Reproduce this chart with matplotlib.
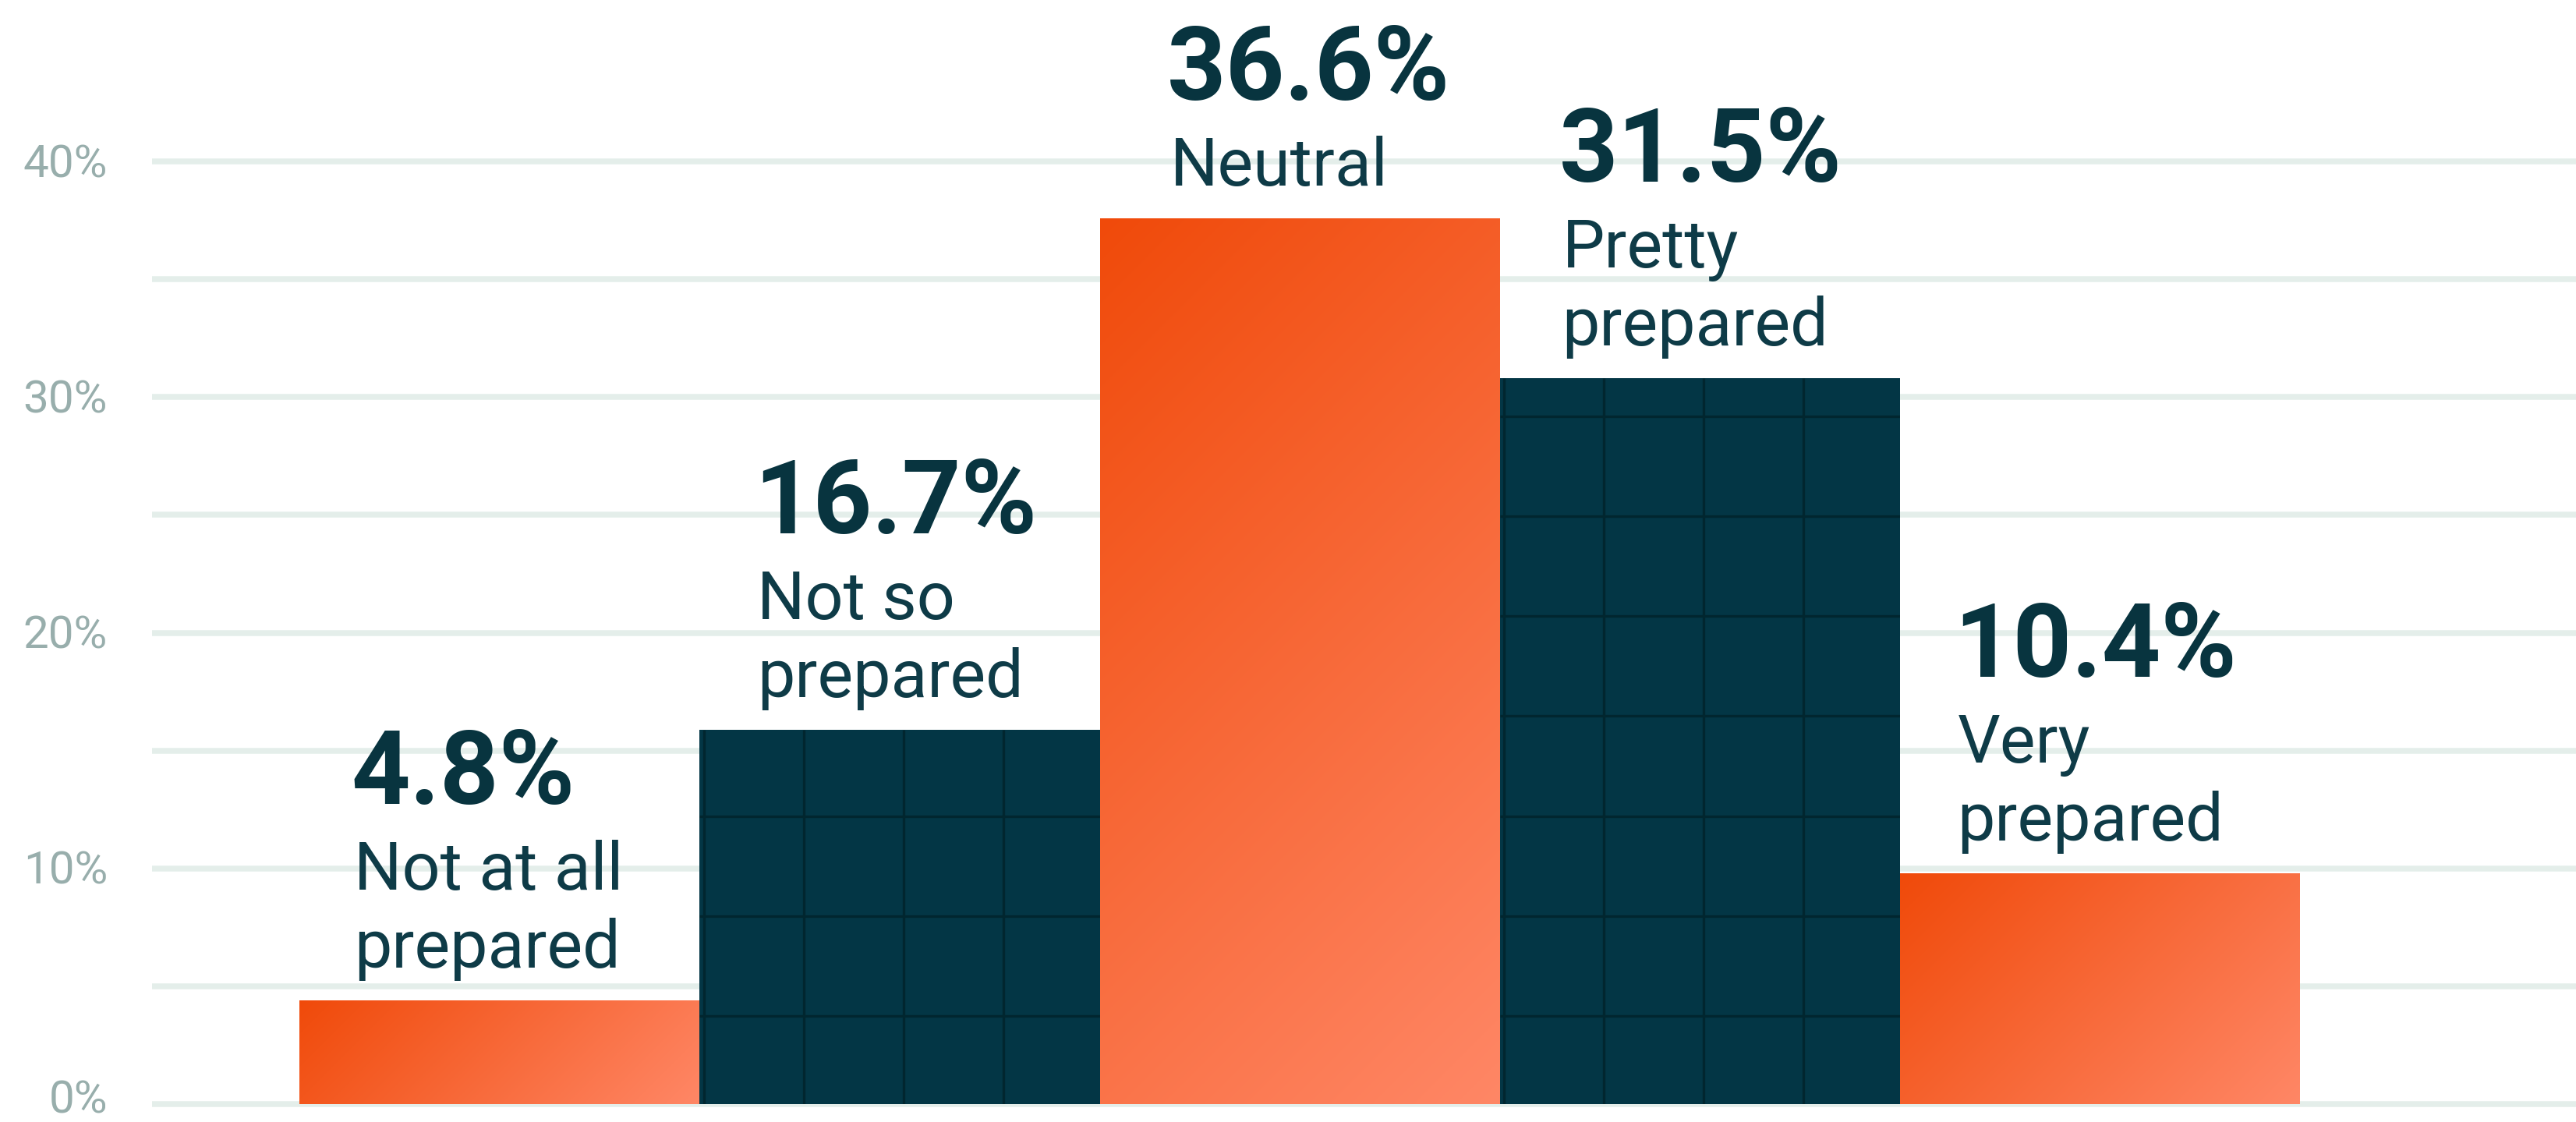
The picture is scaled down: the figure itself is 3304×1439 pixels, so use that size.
import numpy as np
import matplotlib
matplotlib.use('Agg')
import matplotlib.pyplot as plt
from matplotlib.ticker import FixedLocator
from matplotlib.transforms import blended_transform_factory
from matplotlib.colors import to_rgb

categories = ['Not at all\nprepared', 'Not so\nprepared', 'Neutral', 'Pretty\nprepared', 'Very\nprepared']
reported_pct = [4.8, 16.7, 36.6, 31.5, 10.4]
bar_heights = [4.4, 15.9, 37.6, 30.8, 9.8]   # heights as drawn in the picture
bar_style = ['gradient', 'dark', 'gradient', 'dark', 'gradient']
y_ticks = [0, 10, 20, 30, 40]
y_minor = [5, 15, 25, 35]

ORANGE_A = '#F04A0A'
ORANGE_B = '#FF8766'
NAVY = '#033645'
NAVY_LINE = '#01262F'
INK = '#08343F'
INK_SOFT = '#0E3B47'
GRID = '#E4EEEA'
TICK = '#98AEAC'

plt.rcParams['font.family'] = ['Roboto', 'DejaVu Sans']

W, H, DPI = 3305, 1439, 100
fig = plt.figure(figsize=(W / DPI, H / DPI), dpi=DPI)
ax_left_px = 195
ax = fig.add_axes([ax_left_px / W, 0, 1 - ax_left_px / W, 1])

px_per_pct = 30.22
bar_px = 513
zero_px = 23      # 0% line above figure bottom
x0_px = 446       # first bar centre from axes left

x = np.arange(len(categories))
bars = ax.bar(x, bar_heights, width=1.0,
              color=[NAVY if s == 'dark' else ORANGE_A for s in bar_style],
              linewidth=0, zorder=2)

# 45 degree orange gradient (in pixel space), clipped to each bar
ca, cb = np.array(to_rgb(ORANGE_A)), np.array(to_rgb(ORANGE_B))
for rect, style in zip(bars, bar_style):
    if style != 'gradient':
        continue
    xl, w, h = rect.get_x(), rect.get_width(), rect.get_height()
    wpx, hpx = w * bar_px, h * px_per_pct
    X = np.linspace(0, wpx, 300)[None, :]
    Y = np.linspace(0, hpx, 300)[:, None]
    t = (X + Y) / (wpx + hpx)
    grad = ca + (cb - ca) * t[..., None]
    im = ax.imshow(grad, extent=(xl, xl + w, 0, h), origin='upper',
                   aspect='auto', zorder=3, interpolation='bilinear')
    im.set_clip_path(rect)

# square grid texture on the dark bars
cell_x = 0.25
cell_y = cell_x * bar_px / px_per_pct
for rect, style in zip(bars, bar_style):
    if style != 'dark':
        continue
    xl, h = rect.get_x(), rect.get_height()
    xs = xl + 0.01 + cell_x * np.arange(4)
    vl = ax.vlines(xs, 0, h, color=NAVY_LINE, lw=2.4, zorder=3)
    vl.set_clip_path(rect)
    ys = np.arange(0.88 * cell_y, h, cell_y)
    hl = ax.hlines(ys, xl, xl + 1, color=NAVY_LINE, lw=2.4, zorder=3)
    hl.set_clip_path(rect)

# labels stacked above each bar
text_dx = [66, 70, 86, 76, 70]
for i, rect in enumerate(bars):
    lines = categories[i].split('\n')
    top, xl = rect.get_height(), rect.get_x()
    for j, line in enumerate(reversed(lines)):
        ax.annotate(line, (xl, top), xytext=(text_dx[i] + 4, 42 + 100 * j),
                    textcoords='offset pixels', ha='left', va='baseline',
                    fontsize=62, color=INK_SOFT, zorder=5)
    ax.annotate(f'{reported_pct[i]}%', (xl, top),
                xytext=(text_dx[i], 42 + 100 * (len(lines) - 1) + 110),
                textcoords='offset pixels', ha='left', va='baseline',
                fontsize=95, fontweight='bold', color=INK, zorder=5)

ax.set_xlim(-x0_px / bar_px, (W - ax_left_px - x0_px) / bar_px)
ax.set_ylim(-zero_px / px_per_pct, (H - zero_px) / px_per_pct)

# horizontal guide lines every 5%
ax.yaxis.set_major_locator(FixedLocator(y_ticks))
ax.yaxis.set_minor_locator(FixedLocator(y_minor))
ax.grid(axis='y', which='both', color=GRID, linewidth=5.4)
ax.set_axisbelow(True)
ax.tick_params(axis='y', which='both', length=0, labelleft=False)
ax.set_xticks([])
for s in ax.spines.values():
    s.set_visible(False)

# y labels, right aligned left of the guide lines
lab_tr = blended_transform_factory(ax.transAxes, ax.transData)
for v in y_ticks:
    dy = -12 if v == 0 else -20   # keep the bottom label inside the canvas
    ax.annotate(f'{v}%', (-57 / (W - ax_left_px), v), xycoords=lab_tr,
                xytext=(0, dy), textcoords='offset pixels',
                ha='right', va='baseline', fontsize=42, color=TICK,
                annotation_clip=False)

fig.savefig('out.png', dpi=DPI)
